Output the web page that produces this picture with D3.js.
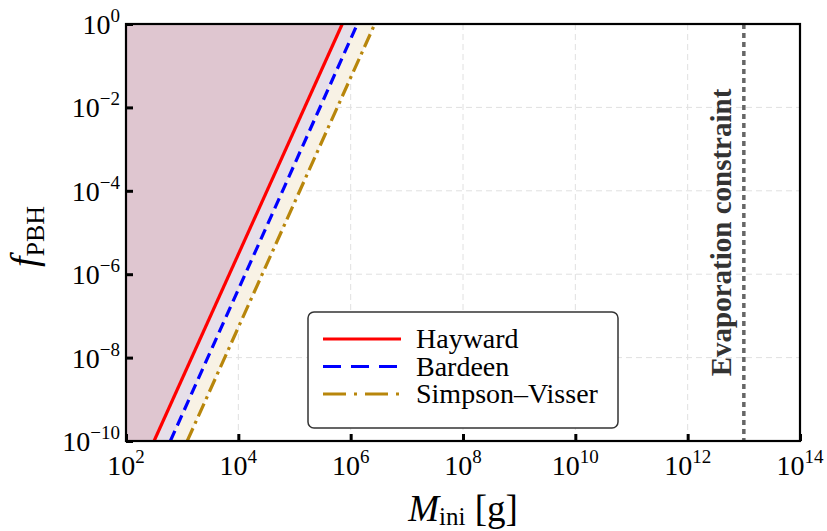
<!DOCTYPE html>
<html>
<head>
<meta charset="utf-8">
<script src="https://cdn.jsdelivr.net/npm/d3@7"></script>
<style>
  body { margin: 0; background: #fff; }
  svg text { font-family: "Liberation Serif", "DejaVu Serif", serif; }
</style>
</head>
<body>
<div id="chart"></div>
<script>
// values: (M_ini [g], f_PBH) along each bound
const hayward = [[10 ** 2.5, 1e-10], [10 ** 5.85, 1]];
const bardeen = [[10 ** 2.79, 1e-10], [10 ** 6.12, 1]];
const simpsonVisser = [[10 ** 3.09, 1e-10], [10 ** 6.43, 1]];
const evaporationMass = 1e13;
const xTicks = [1e2, 1e4, 1e6, 1e8, 1e10, 1e12, 1e14];
const yTicks = [1e-10, 1e-8, 1e-6, 1e-4, 1e-2, 1];

const W = 827, H = 531;
const M = { t: 24, r: 27, b: 90, l: 126 };

const svg = d3.select('#chart').append('svg')
  .attr('width', W).attr('height', H)
  .attr('viewBox', `0 0 ${W} ${H}`)
  .style('display', 'block');

const x = d3.scaleLog().domain([1e2, 1e14]).range([M.l, W - M.r]);
const y = d3.scaleLog().domain([1e-10, 1]).range([H - M.b, M.t]);

svg.append('clipPath').attr('id', 'plotclip')
  .append('rect').attr('x', M.l).attr('y', M.t)
  .attr('width', W - M.l - M.r).attr('height', H - M.t - M.b);

const plot = svg.append('g').attr('clip-path', 'url(#plotclip)');

// grid
plot.append('g').selectAll('line').data(xTicks).enter().append('line')
  .attr('x1', d => x(d)).attr('x2', d => x(d))
  .attr('y1', M.t).attr('y2', H - M.b)
  .attr('stroke', '#e0e0e0').attr('stroke-width', 1).attr('stroke-dasharray', '6 4');
plot.append('g').selectAll('line').data(yTicks).enter().append('line')
  .attr('x1', M.l).attr('x2', W - M.r)
  .attr('y1', d => y(d)).attr('y2', d => y(d))
  .attr('stroke', '#e0e0e0').attr('stroke-width', 1).attr('stroke-dasharray', '6 4');

// excluded regions (left of each curve)
const area = d3.area()
  .x0(x(1e2))
  .x1(d => x(d[0]))
  .y(d => y(d[1]));
[[simpsonVisser, '#f8f2e5'], [bardeen, '#e6dfe9'], [hayward, '#dfc6d0']].forEach(([data, col]) => {
  plot.append('path').datum(data).attr('fill', col).attr('stroke', 'none').attr('d', area);
});

const line = d3.line().x(d => x(d[0])).y(d => y(d[1]));
const series = [
  { name: 'Hayward', data: hayward, color: '#ff0000', dash: null, legDash: null },
  { name: 'Bardeen', data: bardeen, color: '#0000ff', dash: '11 6', legDash: '18 10' },
  { name: 'Simpson\u2013Visser', data: simpsonVisser, color: '#b8860b', dash: '14 5 3 5', legDash: '23 8 3 8' }
];
series.forEach(s => {
  plot.append('path').datum(s.data)
    .attr('fill', 'none').attr('stroke', s.color).attr('stroke-width', 3.2)
    .attr('stroke-dasharray', s.dash).attr('d', line);
});

// evaporation constraint
plot.append('line')
  .attr('x1', x(evaporationMass)).attr('x2', x(evaporationMass))
  .attr('y1', M.t).attr('y2', H - M.b)
  .attr('stroke', '#666').attr('stroke-width', 3.5).attr('stroke-dasharray', '5 4');
svg.append('text')
  .attr('transform', `translate(${x(evaporationMass) - 13},${y(1e-5)}) rotate(-90)`)
  .attr('text-anchor', 'middle')
  .style('font-weight', 'bold').style('font-size', '29px').attr('fill', '#333')
  .text('Evaporation constraint');

// frame
svg.append('rect').attr('x', M.l).attr('y', M.t)
  .attr('width', W - M.l - M.r).attr('height', H - M.t - M.b)
  .attr('fill', 'none').attr('stroke', '#000').attr('stroke-width', 2.2);

// ticks (inward)
svg.append('g').attr('transform', `translate(0,${H - M.b})`)
  .call(d3.axisBottom(x).tickValues(xTicks).tickSizeInner(-7).tickSizeOuter(0).tickFormat(''))
  .call(g => g.select('.domain').remove())
  .call(g => g.selectAll('line').attr('stroke-width', 3));
svg.append('g').attr('transform', `translate(${M.l},0)`)
  .call(d3.axisLeft(y).tickValues(yTicks).tickSizeInner(-7).tickSizeOuter(0).tickFormat(''))
  .call(g => g.select('.domain').remove())
  .call(g => g.selectAll('line').attr('stroke-width', 3));

// tick labels
const xl = svg.append('g');
xTicks.forEach(v => {
  const t = xl.append('text').attr('x', x(v)).attr('y', H - M.b + 34)
    .attr('text-anchor', 'middle').style('font-size', '28px');
  t.append('tspan').text('10');
  t.append('tspan').attr('dy', -12).style('font-size', '19px').text(Math.round(Math.log10(v)));
});
const yl = svg.append('g');
yTicks.forEach(v => {
  const e = Math.round(Math.log10(v));
  const t = yl.append('text').attr('x', M.l - 6).attr('y', y(v) + 10)
    .attr('text-anchor', 'end').style('font-size', '28px');
  t.append('tspan').text('10');
  t.append('tspan').attr('dy', -12).style('font-size', '19px').text(e === 0 ? '0' : '\u2212' + (-e));
});

// axis titles
const xt = svg.append('text').attr('x', (M.l + W - M.r) / 2).attr('y', 521)
  .attr('text-anchor', 'middle').style('font-size', '37px');
xt.append('tspan').style('font-style', 'italic').text('M');
xt.append('tspan').attr('dy', 4).style('font-size', '25px').text('ini');
xt.append('tspan').attr('dy', -4).text(' [g]');

const yt = svg.append('text')
  .attr('transform', `translate(37,${(M.t + H - M.b) / 2 + 4}) rotate(-90)`)
  .attr('text-anchor', 'middle').style('font-size', '38px');
yt.append('tspan').style('font-style', 'italic').text('f');
yt.append('tspan').attr('dy', 7).style('font-size', '26px').text('PBH');

// legend
const lg = svg.append('g').attr('transform', 'translate(308,312)');
lg.append('rect').attr('width', 310).attr('height', 116).attr('rx', 6)
  .attr('fill', '#fff').attr('stroke', '#333').attr('stroke-width', 1.5);
series.forEach((s, i) => {
  const yy = 27 + i * 27.5;
  lg.append('line').attr('x1', 15).attr('x2', 93).attr('y1', yy).attr('y2', yy)
    .attr('stroke', s.color).attr('stroke-width', 3.2).attr('stroke-dasharray', s.legDash);
  lg.append('text').attr('x', 108).attr('y', yy + 9).style('font-size', '28px').text(s.name);
});
</script>
</body>
</html>
